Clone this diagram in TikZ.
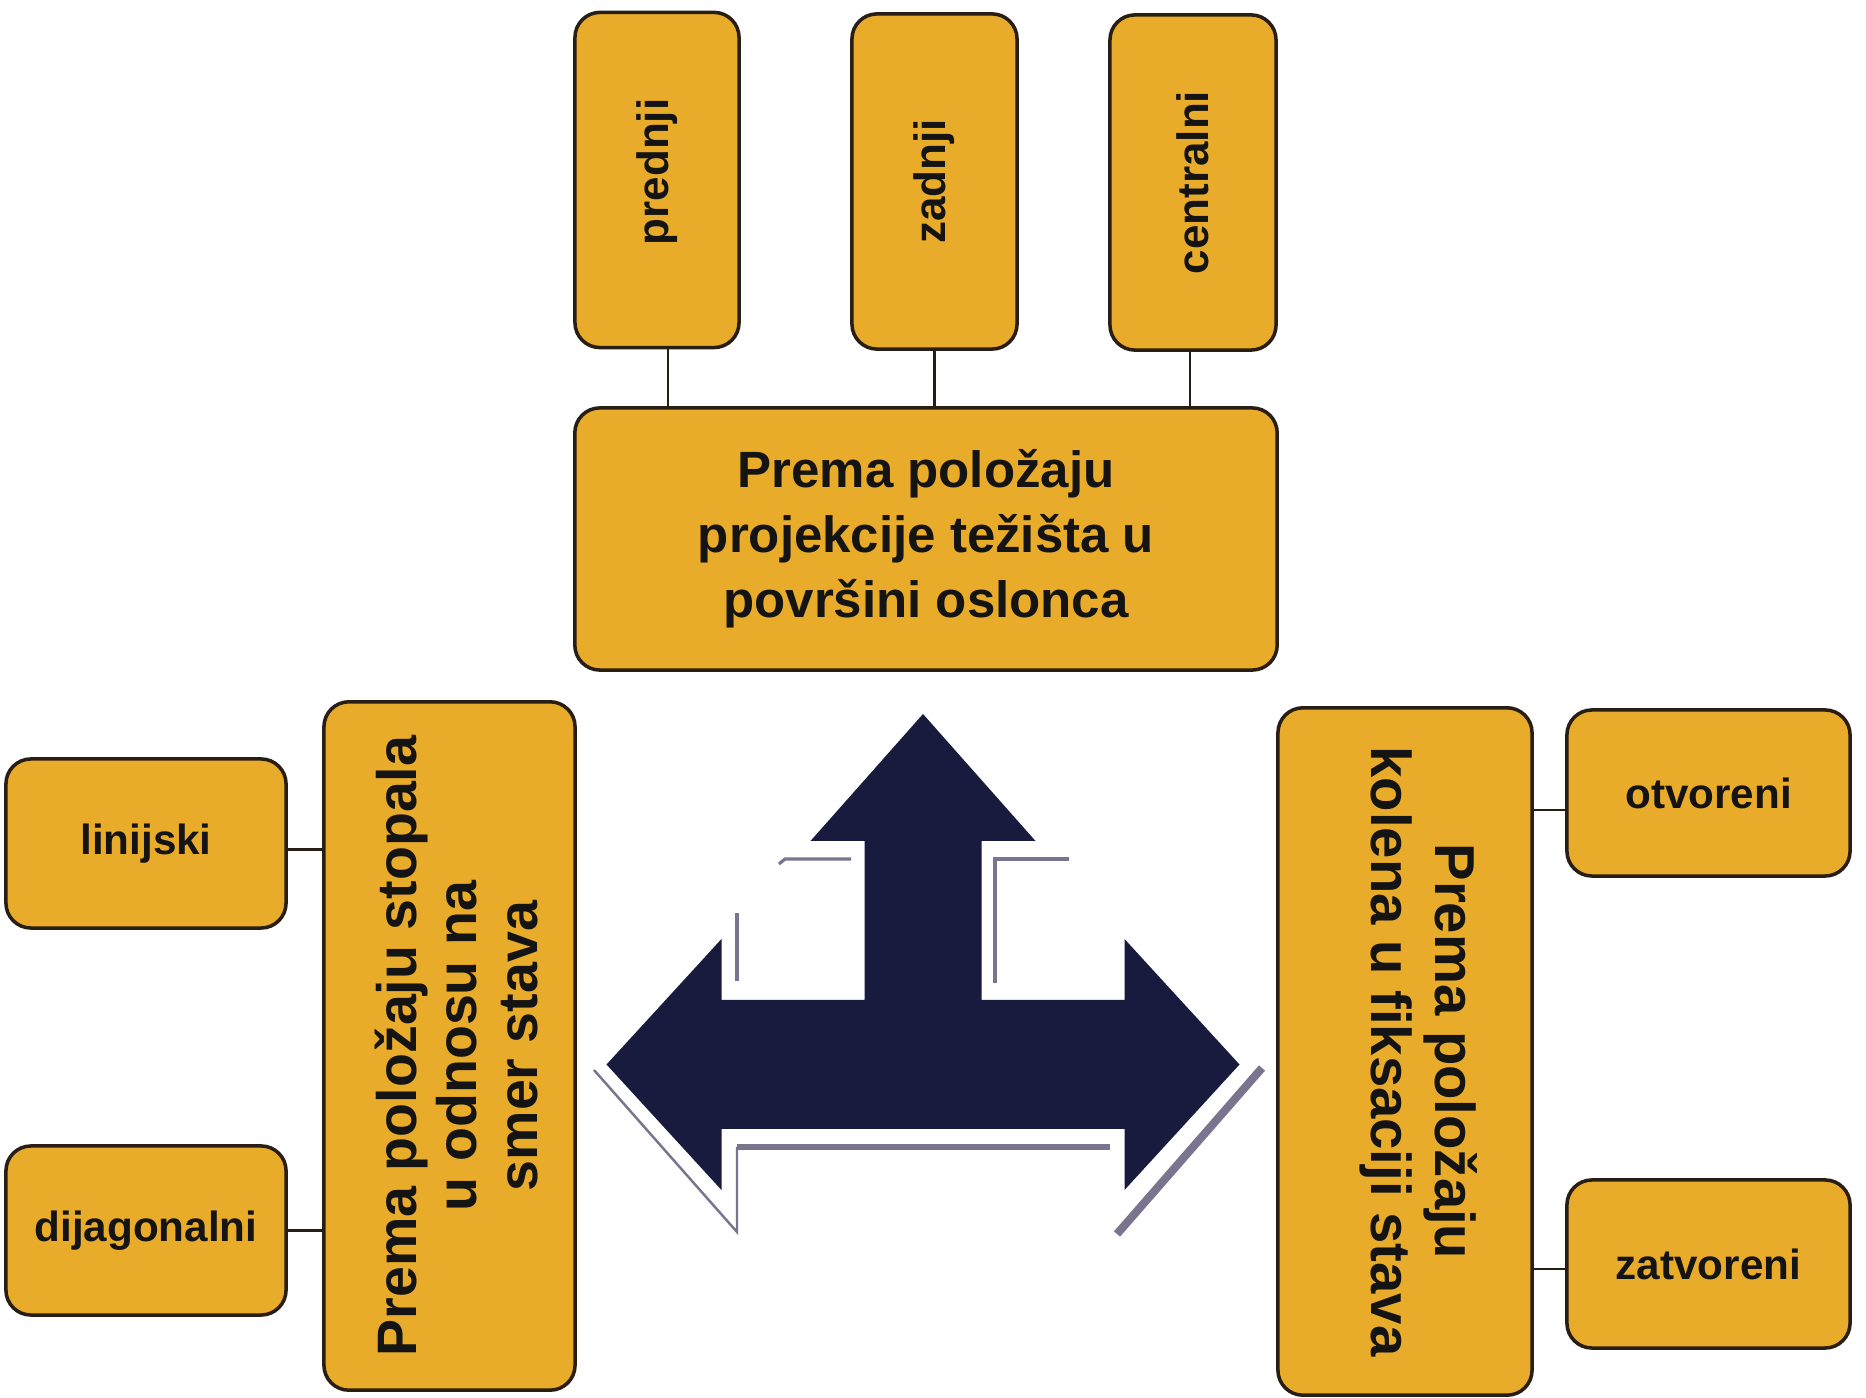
\documentclass[tikz,border=0pt]{standalone}
\usepackage{fontspec}
\setmainfont{Liberation Sans}
\definecolor{boxfill}{RGB}{233,171,42}
\definecolor{boxline}{RGB}{40,30,20}
\definecolor{navy}{RGB}{24,26,62}
\definecolor{shade}{RGB}{122,116,142}
\def\tarrowpath{(923,714) -- (1035.5,841) -- (981.5,841) -- (981.5,1000) -- (1124.5,1000) -- (1124.5,939) -- (1239.5,1064.5) -- (1124.5,1190) -- (1124.5,1129) -- (721.5,1129) -- (721.5,1190) -- (606.5,1064.5) -- (721.5,939) -- (721.5,1000) -- (864.5,1000) -- (864.5,841) -- (810.5,841) -- cycle}
\begin{document}
\begin{tikzpicture}[x=0.01cm,y=-0.01cm,
  box/.style={draw=boxline, line width=1pt, fill=boxfill, rounded corners=0.25cm, inner sep=0pt, font=\bfseries, text=black!92},
  link/.style={draw=boxline, line width=0.8pt},
  shadowline/.style={draw=shade, line width=0.9pt}]
\useasboundingbox[fill=white] (0,0) rectangle (1866,1398);

% top small boxes
\node[box, minimum width=1.64cm, minimum height=3.35cm] (pred) at (657,180) {\rotatebox{90}{\fontsize{12.5}{15}\selectfont\hspace*{0.16cm}prednji}};
\node[box, minimum width=1.65cm, minimum height=3.35cm] (zad) at (934.5,181.5) {\rotatebox{90}{\fontsize{12.5}{15}\selectfont zadnji}};
\node[box, minimum width=1.66cm, minimum height=3.35cm] (cent) at (1193,182.5) {\rotatebox{90}{\fontsize{12.5}{15}\selectfont centralni}};

% main top box
\node[box, minimum width=7.02cm, minimum height=2.62cm, align=center, font=\bfseries\fontsize{14.5}{18.5}\selectfont] (main) at (926,539) {Prema položaju\\projekcije težišta u\\površini oslonca};

% left group
\node[box, minimum width=2.51cm, minimum height=6.88cm] (lbig) at (449.5,1046) {\rotatebox{90}{\raisebox{-0.15cm}[\height][\depth]{\fontsize{15.8}{17.2}\selectfont\begin{tabular}{@{}c@{}}Prema položaju stopala\\u odnosu na\\smer stava\end{tabular}}}};
\node[box, minimum width=2.80cm, minimum height=1.69cm, font=\bfseries\fontsize{12}{14}\selectfont] (lin) at (146,843.5) {linijski};
\node[box, minimum width=2.80cm, minimum height=1.69cm, font=\bfseries\fontsize{12}{14}\selectfont] (dia) at (146,1230.5) {dijagonalni};

% right group
\node[box, minimum width=2.54cm, minimum height=6.87cm] (rbig) at (1405,1051.5) {\rotatebox{-90}{\raisebox{0.11cm}[\height][\depth]{\fontsize{16}{18}\selectfont\begin{tabular}{@{}c@{}}Prema položaju\\kolena u fiksaciji stava\end{tabular}}}};
\node[box, minimum width=2.83cm, minimum height=1.66cm, font=\bfseries\fontsize{12}{14}\selectfont] (otv) at (1708.5,793) {otvoreni};
\node[box, minimum width=2.83cm, minimum height=1.68cm, font=\bfseries\fontsize{12}{14}\selectfont] (zat) at (1708.5,1264) {zatvoreni};

% connectors
\draw[link] ([xshift=0.11cm]pred.south) -- ([xshift=0.11cm]pred.south |- main.north);
\draw[link] (zad.south) -- (zad.south |- main.north);
\draw[link] ([xshift=-0.03cm]cent.south) -- ([xshift=-0.03cm]cent.south |- main.north);
\draw[link] ([yshift=-0.06cm]lin.east) -- ([yshift=-0.06cm]lin.east -| lbig.west);
\draw[link] (dia.east) -- (dia.east -| lbig.west);
\draw[link] ([yshift=-0.17cm]otv.west) -- ([yshift=-0.17cm]otv.west -| rbig.east);
\draw[link] ([yshift=-0.05cm]zat.west) -- ([yshift=-0.05cm]zat.west -| rbig.east);

% arrow shadow lines
\draw[shadowline] (779,864) -- (785,859) -- (851,859);
\draw[shadowline] (737,913) -- (737,981);
\draw[shadowline] (1069,859) -- (995,859) -- (995,983);
\draw[shadowline, line width=0.7pt] (594,1070) -- (737,1232) -- (737,1147);
\draw[shadowline, line width=1.6pt] (737,1147) -- (1110,1147);
\draw[shadowline, line width=2.3pt] (1262,1068) -- (1117,1234);

% arrow with white halo
\draw[white, line width=5pt, line join=miter] \tarrowpath;
\fill[navy] \tarrowpath;
\end{tikzpicture}
\end{document}
